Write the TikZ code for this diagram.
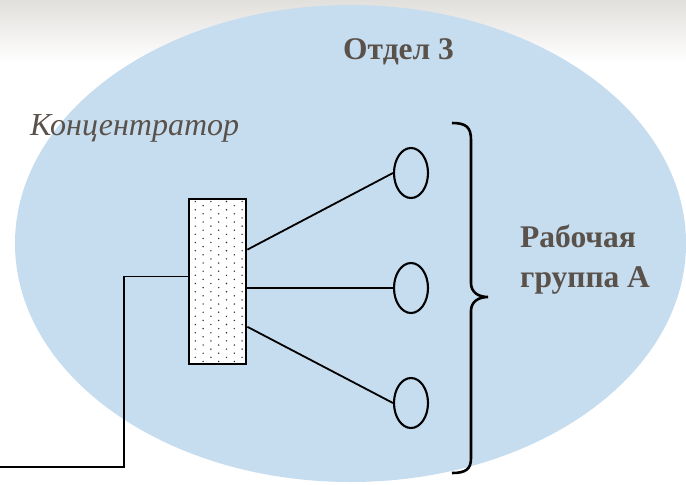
\documentclass[tikz,border=0pt]{standalone}
\usepackage{fontspec}
\setmainfont{Liberation Serif}
\usetikzlibrary{shapes.geometric,calc}
\definecolor{deptblue}{RGB}{198,220,239}
\definecolor{labelgray}{RGB}{89,81,74}
\definecolor{dotgray}{RGB}{50,50,50}
\definecolor{bandgray}{RGB}{226,224,220}
\tikzset{
  wire/.style={line width=1.8pt, draw=black},
  hubbox/.style={draw=black, line width=2.8pt, fill=white, rectangle,
    minimum width=57pt, minimum height=165pt, inner sep=0pt},
  wsnode/.style={draw=black, line width=2.1pt, ellipse, fill=deptblue,
    minimum width=34pt, minimum height=50pt, inner sep=0pt},
  boldlbl/.style={text=labelgray, inner sep=0pt, font=\fontsize{31.5}{40}\selectfont\bfseries},
  itlbl/.style={text=labelgray, inner sep=0pt, font=\fontsize{32}{36}\selectfont\itshape},
  bracestyle/.style={draw=black, line width=2.6pt}
}
\begin{document}
\begin{tikzpicture}[x=1pt,y=-1pt]
\useasboundingbox (0,0) rectangle (686,485);
% top band
\shade[top color=bandgray, bottom color=white] (0,0) rectangle (686,62);
% department ellipse
\fill[deptblue] (350.5,243.5) ellipse [x radius=335.5, y radius=238.5];

% hub
\node[hubbox] (hub) at (217.5,281.5) {};
\foreach \r in {0,2,...,38}{
  \foreach \xx in {195.3,210.9,226.5,242.1}{
    \fill[dotgray] (\xx,{201.5+4.1*\r}) circle (0.8pt);
  }
}
\foreach \r in {1,3,...,39}{
  \foreach \xx in {203.1,218.7,234.3}{
    \fill[dotgray] (\xx,{201.5+4.1*\r}) circle (0.8pt);
  }
}

% workstations
\node[wsnode] (ws1) at (411,173) {};
\node[wsnode] (ws2) at (411,288) {};
\node[wsnode] (ws3) at (411,403) {};

% connectors
\coordinate (p1) at ($(hub.north east)!0.31!(hub.south east)$);
\coordinate (p2) at (hub.east |- ws2);
\coordinate (p3) at ($(hub.north east)!0.77!(hub.south east)$);
\coordinate (pin) at ($(hub.north west)!0.47!(hub.south west)$);
\draw[wire] (p1) -- (ws1.west);
\draw[wire] (p2) -- (ws2.west);
\draw[wire] (p3) -- (ws3.west);
\coordinate (bend) at (124,467);
\coordinate (lend) at (0,467);
\draw[wire] (pin) -| (bend) -- (lend);

% brace
\draw[bracestyle] (452,123) .. controls (466,123) and (471,127) .. (471,140)
  -- (471,283) .. controls (471,292) and (478,297) .. (488,297)
  .. controls (478,297) and (471,302) .. (471,311)
  -- (471,458) .. controls (471,469) and (466,473) .. (452,473);

% labels
\node[boldlbl, anchor=base west] (otdel) at (343,59) {Отдел 3};
\node[itlbl, anchor=base west] (hubtxt) at (30,135) {Концентратор};
\node[boldlbl, anchor=west, align=left] (grp) at (520,260) {Рабочая\\группа А};
\end{tikzpicture}
\end{document}
